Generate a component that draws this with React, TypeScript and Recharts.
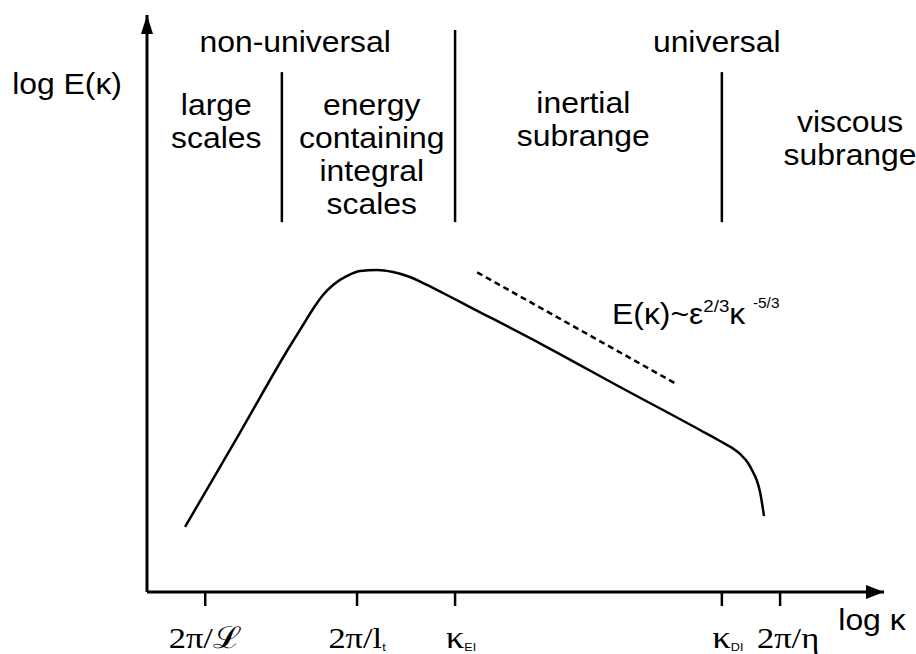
import { ComposedChart, Line, XAxis, YAxis, ReferenceLine, ReferenceDot } from 'recharts';

// energy spectrum, both axes in arbitrary log units (0..100)
const kappa = [
  5.16, 12.62, 19.4, 21.17, 22.52, 23.88, 25.24, 27.14, 28.9, 31.21, 33.38, 35.69, 37.99, 40.16, 43.83,
  54.0, 64.18, 75.03, 77.74, 80.46, 81.55, 82.22, 82.77, 83.18, 83.72,
];
const energy = [
  11.27, 27.64, 42.63, 46.27, 49.05, 51.47, 53.21, 54.77, 55.63, 55.81, 55.46, 54.59, 53.21, 51.82, 49.39,
  42.63, 35.53, 28.08, 26.17, 23.92, 22.36, 20.8, 19.24, 17.33, 13.17,
];

// -5/3 guide line
const slopeKappa = [44.8, 71.9];
const slopeEnergy = [55.4, 36.0];

const tickValues = [7.9, 28.5, 41.8, 78.0, 85.9];
const tickMain = ['2π/ℒ', '2π/l', 'κ', 'κ', '2π/η'];
const tickSub = ['', 't', 'EI', 'DI', ''];

const dividerX = [18.3, 41.8, 78.0];
const dividerTop = [90.1, 97.4, 90.1];
const dividerBottom = 64.1;

const groupLabels = ['non-universal', 'universal'];
const groupX = [20.1, 77.3];

const rangeLabels = [
  ['large', 'scales'],
  ['energy', 'containing', 'integral', 'scales'],
  ['inertial', 'subrange'],
  ['viscous', 'subrange'],
];
const rangeX = [9.4, 30.5, 59.2, 95.4];
const rangeY = [82.7, 82.7, 83.0, 79.7];

const curveData = kappa.map((k, i) => ({ k, E: energy[i] }));
const slopeData = slopeKappa.map((k, i) => ({ k, E: slopeEnergy[i] }));

const SANS = '"Liberation Sans", Arial, Helvetica, sans-serif';
const SERIF = '"Liberation Serif", "Times New Roman", "DejaVu Serif", serif';
const STRETCH = 1.1;
const LINE_GAP = 33;

function Words({ cx, cy, lines, anchor = 'middle', size = 29 }: any) {
  return (
    <g transform={`translate(${cx},${cy}) scale(${STRETCH},1)`}>
      <text x={0} y={0} textAnchor={anchor} fontFamily={SANS} fontSize={size} fill="#000">
        {lines.map((t: string, i: number) => (
          <tspan key={i} x={0} dy={i === 0 ? 0 : LINE_GAP}>
            {t}
          </tspan>
        ))}
      </text>
    </g>
  );
}

function Formula({ cx, cy }: any) {
  return (
    <g transform={`translate(${cx},${cy}) scale(${STRETCH},1)`}>
      <text x={0} y={0} fontFamily={SANS} fontSize={29} fill="#000">
        E(κ)~ε
        <tspan fontSize={17} dy={-12}>2/3</tspan>
        <tspan fontSize={29} dy={12}>κ</tspan>
        <tspan fontSize={14} dx={7} dy={-16}>-5/3</tspan>
      </text>
    </g>
  );
}

function BottomTick(props: any) {
  const { x, y, payload } = props;
  const i = tickValues.indexOf(payload.value);
  if (i < 0) return null;
  const isKappa = tickMain[i] === 'κ';
  const shift = i === 4 ? 8 : isKappa ? 6 : 0;
  return (
    <g transform={`translate(${x + shift},${y + 40}) scale(${STRETCH + 0.05},1)`}>
      <text x={0} y={0} textAnchor="middle" fontFamily={SERIF} fontSize={isKappa ? 32 : 30} fill="#000">
        {tickMain[i]}
        {tickSub[i] && (
          <tspan fontFamily={SANS} fontSize={11} dy={3}>
            {tickSub[i]}
          </tspan>
        )}
      </text>
    </g>
  );
}

const XArrow = ({ cx, cy }: any) => (
  <polygon points={`${cx},${cy} ${cx - 18},${cy - 7} ${cx - 18},${cy + 7}`} fill="#000" />
);
const YArrow = ({ cx, cy }: any) => (
  <polygon points={`${cx},${cy} ${cx - 6},${cy + 19} ${cx + 6},${cy + 19}`} fill="#000" />
);

export default function App() {
  return (
    <div style={{ position: 'absolute', left: 0, top: 0, background: '#fff' }}>
      <ComposedChart width={916} height={654} margin={{ top: 15, right: 32, bottom: 0, left: 147 }}>
        <XAxis
          type="number"
          dataKey="k"
          domain={[0, 100]}
          ticks={tickValues}
          interval={0}
          height={62}
          tickSize={14}
          axisLine={{ stroke: '#000', strokeWidth: 3 }}
          tickLine={{ stroke: '#000', strokeWidth: 2.5 }}
          tick={<BottomTick />}
          allowDataOverflow
        />
        <YAxis type="number" domain={[0, 100]} width={0} hide allowDataOverflow />

        {/* vertical axis line */}
        <ReferenceLine x={0} stroke="#000" strokeWidth={3} />

        {dividerX.map((x, i) => (
          <ReferenceLine
            key={`div-${i}`}
            segment={[
              { x, y: dividerBottom },
              { x, y: dividerTop[i] },
            ]}
            stroke="#000"
            strokeWidth={2.5}
          />
        ))}

        <Line
          data={curveData}
          dataKey="E"
          type="monotone"
          stroke="#000"
          strokeWidth={2.5}
          dot={false}
          activeDot={false}
          isAnimationActive={false}
        />
        <Line
          data={slopeData}
          dataKey="E"
          type="linear"
          stroke="#000"
          strokeWidth={2.5}
          strokeDasharray="6 4"
          dot={false}
          activeDot={false}
          isAnimationActive={false}
        />

        <ReferenceDot x={100} y={0} r={0} ifOverflow="visible" shape={<XArrow />} />
        <ReferenceDot x={0} y={100} r={0} ifOverflow="visible" shape={<YArrow />} />

        {groupLabels.map((g, i) => (
          <ReferenceDot
            key={`grp-${i}`}
            x={groupX[i]}
            y={93.6}
            r={0}
            ifOverflow="visible"
            shape={<Words lines={[g]} />}
          />
        ))}
        {rangeLabels.map((lines, i) => (
          <ReferenceDot
            key={`rng-${i}`}
            x={rangeX[i]}
            y={rangeY[i]}
            r={0}
            ifOverflow="visible"
            shape={<Words lines={lines} />}
          />
        ))}

        <ReferenceDot x={63.1} y={46.4} r={0} ifOverflow="visible" shape={<Formula />} />
        <ReferenceDot x={-18.3} y={86.3} r={0} ifOverflow="visible" shape={<Words lines={['log E(κ)']} anchor="start" />} />
        <ReferenceDot x={93.8} y={-6.6} r={0} ifOverflow="visible" shape={<Words lines={['log κ']} anchor="start" />} />
      </ComposedChart>
    </div>
  );
}
